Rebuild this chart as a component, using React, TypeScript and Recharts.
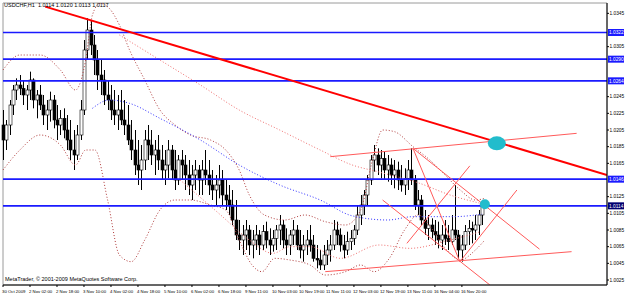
import React from "react";
import {
  Bar,
  ComposedChart,
  Line,
  ReferenceArea,
  ReferenceDot,
  ReferenceLine,
  XAxis,
  YAxis,
} from "recharts";

// USDCHF H1, one entry per 2 hours (bar index step 2)
const highs = [
  1.0229, 1.0217, 1.0241, 1.0259, 1.0267, 1.0271, 1.0265, 1.0259, 1.0275, 1.0267,
  1.0253, 1.0259, 1.0247, 1.0241, 1.0251, 1.0247, 1.0235, 1.0229, 1.0231, 1.0223,
  1.0217, 1.0205, 1.0211, 1.0241, 1.0313, 1.0339, 1.0337, 1.0319, 1.0301, 1.0289,
  1.0277, 1.0265, 1.0259, 1.0253, 1.0247, 1.0253, 1.0241, 1.0235, 1.0217, 1.0205,
  1.0193, 1.0187, 1.0205, 1.0211, 1.0205, 1.0193, 1.0199, 1.0187, 1.0181, 1.0193,
  1.0187, 1.0181, 1.0175, 1.0181, 1.0175, 1.0169, 1.0163, 1.0169, 1.0163, 1.0169,
  1.0181, 1.0169, 1.0157, 1.0151, 1.0163, 1.0157, 1.0145, 1.0139, 1.0133, 1.0121,
  1.0097, 1.0091, 1.0097, 1.0091, 1.0085, 1.0091, 1.0085, 1.0091, 1.0095, 1.0087,
  1.0085, 1.0091, 1.0103, 1.0097, 1.0087, 1.0085, 1.0097, 1.0091, 1.0085, 1.0079,
  1.0085, 1.0091, 1.0079, 1.0067, 1.0061, 1.0067, 1.0073, 1.0079, 1.0097, 1.0095,
  1.0087, 1.0079, 1.0083, 1.0085, 1.0091, 1.0115, 1.0127, 1.0133, 1.0151, 1.0175,
  1.0187, 1.0183, 1.0181, 1.0179, 1.0175, 1.0171, 1.0169, 1.0167, 1.0163, 1.0159,
  1.0169, 1.0183, 1.0151, 1.0133, 1.0127, 1.0109, 1.0103, 1.0099, 1.0097, 1.0095,
  1.0091, 1.0097, 1.0091, 1.0103, 1.0139, 1.0085, 1.0079, 1.0091, 1.0097, 1.0095,
  1.0103, 1.0109, 1.0117,
];

const lows = [
  1.0169, 1.0181, 1.0199, 1.0223, 1.0241, 1.0247, 1.0235, 1.0229, 1.0241, 1.0231,
  1.0219, 1.0229, 1.0211, 1.0205, 1.0215, 1.0207, 1.0193, 1.0199, 1.0195, 1.0181,
  1.0169, 1.0157, 1.0169, 1.0193, 1.0223, 1.0289, 1.0295, 1.0271, 1.0253, 1.0247,
  1.0235, 1.0229, 1.0217, 1.0211, 1.0205, 1.0211, 1.0199, 1.0187, 1.0169, 1.0151,
  1.0139, 1.0133, 1.0157, 1.0169, 1.0163, 1.0151, 1.0157, 1.0145, 1.0139, 1.0147,
  1.0145, 1.0133, 1.0139, 1.0145, 1.0133, 1.0127, 1.0121, 1.0133, 1.0127, 1.0127,
  1.0139, 1.0127, 1.0121, 1.0115, 1.0123, 1.0115, 1.0109, 1.0103, 1.0091, 1.0073,
  1.0061, 1.0055, 1.0061, 1.0055, 1.0051, 1.0061, 1.0055, 1.0061, 1.0063, 1.0055,
  1.0059, 1.0061, 1.0067, 1.0063, 1.0055, 1.0055, 1.0067, 1.0061, 1.0051, 1.0047,
  1.0055, 1.0059, 1.0047, 1.0039, 1.0037, 1.0037, 1.0043, 1.0047, 1.0061, 1.0067,
  1.0059, 1.0051, 1.0055, 1.0061, 1.0067, 1.0079, 1.0091, 1.0103, 1.0115, 1.0139,
  1.0155, 1.0151, 1.0147, 1.0145, 1.0143, 1.0139, 1.0135, 1.0133, 1.0131, 1.0127,
  1.0133, 1.0139, 1.0109, 1.0103, 1.0091, 1.0079, 1.0073, 1.0075, 1.0067, 1.0063,
  1.0061, 1.0067, 1.0061, 1.0067, 1.0073, 1.0051, 1.0047, 1.0061, 1.0067, 1.0069,
  1.0073, 1.0079, 1.0091,
];

const closes = [
  1.0193, 1.0211, 1.0235, 1.0253, 1.0259, 1.0255, 1.0247, 1.0253, 1.0265, 1.0241,
  1.0247, 1.0235, 1.0223, 1.0229, 1.0241, 1.0217, 1.0211, 1.0219, 1.0205, 1.0193,
  1.0181, 1.0175, 1.0199, 1.0229, 1.0301, 1.0325, 1.0307, 1.0289, 1.0271, 1.0265,
  1.0247, 1.0241, 1.0229, 1.0223, 1.0229, 1.0217, 1.0211, 1.0193, 1.0181, 1.0163,
  1.0157, 1.0169, 1.0193, 1.0187, 1.0175, 1.0181, 1.0169, 1.0157, 1.0163, 1.0181,
  1.0157, 1.0145, 1.0169, 1.0163, 1.0151, 1.0139, 1.0151, 1.0157, 1.0145, 1.0157,
  1.0151, 1.0139, 1.0133, 1.0139, 1.0145, 1.0127, 1.0121, 1.0115, 1.0097, 1.0079,
  1.0073, 1.0079, 1.0085, 1.0067, 1.0073, 1.0079, 1.0067, 1.0083, 1.0073, 1.0067,
  1.0075, 1.0085, 1.0091, 1.0073, 1.0067, 1.0079, 1.0085, 1.0067, 1.0061, 1.0067,
  1.0073, 1.0067, 1.0051, 1.0049, 1.0043, 1.0055, 1.0061, 1.0067, 1.0085, 1.0079,
  1.0067, 1.0061, 1.0071, 1.0075, 1.0085, 1.0103, 1.0115, 1.0127, 1.0145, 1.0169,
  1.0175, 1.0163, 1.0171, 1.0157, 1.0163, 1.0151, 1.0157, 1.0145, 1.0139, 1.0147,
  1.0157, 1.0145, 1.0115, 1.0121, 1.0097, 1.0087, 1.0091, 1.0083, 1.0079, 1.0073,
  1.0079, 1.0075, 1.0071, 1.0085, 1.0079, 1.0061, 1.0067, 1.0083, 1.0087, 1.0085,
  1.0091, 1.0103, 1.0117,
];
const firstOpen = 1.0211;

const timeLabels = [
  "30 Oct 2009", "2 Nov 02:00", "2 Nov 18:00", "3 Nov 10:00", "4 Nov 02:00",
  "4 Nov 18:00", "5 Nov 10:00", "6 Nov 02:00", "6 Nov 18:00", "9 Nov 11:00",
  "10 Nov 03:00", "10 Nov 19:00", "11 Nov 11:00", "12 Nov 03:00", "12 Nov 19:00",
  "13 Nov 11:00", "16 Nov 04:00", "16 Nov 20:00",
];

const priceTicks = [
  1.0345, 1.0325, 1.0305, 1.0285, 1.0265, 1.0245, 1.0225, 1.0205, 1.0185,
  1.0165, 1.0145, 1.0125, 1.0105, 1.0085, 1.0065, 1.0045, 1.0025,
];

const levels = [1.0322, 1.029, 1.0264, 1.0146, 1.0114];

// [bar index, price]
const bbUpper = [
  [0, 1.0277], [10, 1.0295], [22, 1.0295], [34, 1.0277], [43, 1.0253], [49, 1.0289],
  [53, 1.0343], [57.5, 1.0357], [63, 1.0351], [69, 1.0331], [75, 1.0301], [84, 1.0265],
  [93, 1.0229], [102, 1.0211], [111, 1.0199], [123, 1.0193], [132, 1.0181], [140, 1.0157],
  [146, 1.0127], [155, 1.0103], [167, 1.0097], [179, 1.0103], [191, 1.0095], [203, 1.0091],
  [212, 1.0109], [219, 1.0169], [225, 1.0205], [232, 1.0203], [243, 1.0185], [253, 1.0169],
  [262, 1.0151], [271, 1.0133], [280, 1.0121], [285.6, 1.0123],
];
const bbLower = [
  [0, 1.0157], [10, 1.0181], [22, 1.0199], [34, 1.0187], [43, 1.0163], [49, 1.0181],
  [54.5, 1.0181], [62, 1.0121], [69, 1.0055], [76, 1.0047], [84, 1.0073], [93, 1.0109],
  [102, 1.0121], [111, 1.0121], [123, 1.0115], [132, 1.0109], [140, 1.0073], [147.6, 1.0043],
  [153.5, 1.0035], [161, 1.0051], [170, 1.0049], [182, 1.0043], [191, 1.0031], [203, 1.0035],
  [212, 1.0043], [220, 1.0035], [229, 1.0051], [238, 1.0085], [246, 1.0103], [254, 1.0087],
  [263, 1.0061], [271, 1.0049], [280, 1.0061], [285.6, 1.0073],
];
const envUpper = [
  [69, 1.0319], [93, 1.0289], [117, 1.0259], [140, 1.0229], [164, 1.0205], [188, 1.0181],
  [207, 1.0163], [222, 1.0155], [247, 1.0141], [265, 1.0127], [283, 1.0117],
];
const envLower = [
  [105, 1.0145], [129, 1.0103], [146, 1.0073], [160, 1.0057], [170, 1.0065], [182, 1.0065],
  [200, 1.0051], [223, 1.0067], [241, 1.0063], [265, 1.0073], [283, 1.0083],
];
const maLine = [
  [53, 1.0231], [63, 1.0241], [75, 1.0237], [93, 1.0219], [117, 1.0193], [140, 1.0163],
  [164, 1.0139], [188, 1.0121], [207, 1.0102], [228, 1.0097], [243, 1.0101], [267, 1.0101],
  [284, 1.0104],
];

const trendLine = [[25, 1.0353], [358, 1.0151]];
const channelLines = [
  [[194, 1.0173], [340, 1.0201]],
  [[191, 1.0035], [337, 1.0059]],
];
const fanLines = [
  [[243.6, 1.0182], [318, 1.0062]],
  [[225, 1.0121], [288.6, 1.0019]],
  [[239.4, 1.0069], [276.7, 1.0162]],
  [[270.8, 1.0047], [304.6, 1.0133]],
  [[243, 1.0183], [270.8, 1.0047]],
];
const marks = [
  { x: 292.7, y: 1.0189, rx: 9, ry: 7 },
  { x: 285.6, y: 1.0116, rx: 5, ry: 5 },
];

const candles = closes.map((c, k) => ({
  x: k * 2,
  range: [lows[k], highs[k]],
  o: k ? closes[k - 1] : firstOpen,
  c,
  h: highs[k],
  l: lows[k],
}));

// axis labels hidden behind the level tags are not drawn
const shownTicks = priceTicks.filter((t) => levels.every((v) => Math.abs(v - t) > 0.0008));

const toPts = (arr: number[][]) => arr.map(([x, v]) => ({ x, v }));

function Candle(props: any) {
  const { x, y, width, height, payload } = props;
  const { o, c, h, l } = payload;
  const top0 = Math.min(y, y + height);
  const hgt = Math.abs(height);
  const span = h - l || 1;
  const px = (p: number) => top0 + ((h - p) / span) * hgt;
  const bTop = px(Math.max(o, c));
  const bBot = px(Math.min(o, c));
  const cx = Math.round(x + width / 2) + 0.5;
  return (
    <g>
      <line x1={cx} x2={cx} y1={top0} y2={top0 + hgt} stroke="#000" strokeWidth={1} />
      <rect
        x={cx - 1.5}
        y={bTop}
        width={3}
        height={Math.max(bBot - bTop, 1)}
        fill={c >= o ? "#fff" : "#000"}
        stroke="#000"
        strokeWidth={0.6}
      />
    </g>
  );
}

function TimeTick({ x, y, payload }: any) {
  const label = timeLabels[Math.round(payload.value / 16)];
  return (
    <text x={x - 1} y={y + 4} fontSize={4.3} fill="#000" textAnchor="start">
      {label}
    </text>
  );
}

function PriceTick({ x, y, payload }: any) {
  return (
    <text x={x - 0.5} y={y + 1.8} fontSize={4.8} fill="#000" textAnchor="start">
      {payload.value.toFixed(4)}
    </text>
  );
}

function LevelTag({ viewBox, value, dark }: any) {
  const x = viewBox.x + viewBox.width + 1;
  const y = viewBox.y;
  return (
    <g>
      <rect x={x} y={y - 3.5} width={16} height={7} fill={dark ? "#000070" : "#1a1aff"} />
      <text x={x + 1} y={y + 1.8} fontSize={4.8} fill="#fff">
        {value.toFixed(4)}
      </text>
    </g>
  );
}

export default function App() {
  const seg = (s: number[][]) => [
    { x: s[0][0], y: s[0][1] },
    { x: s[1][0], y: s[1][1] },
  ];
  return (
    <div
      style={{
        position: "absolute",
        left: 0,
        top: 0,
        width: 625,
        height: 293,
        background: "#fff",
        fontFamily: "'Liberation Sans', Arial, sans-serif",
      }}
    >
      <ComposedChart
        width={625}
        height={293}
        data={candles}
        margin={{ top: 3, right: 0, left: 3, bottom: 0 }}
        style={{ fontFamily: "'Liberation Sans', Arial, sans-serif" }}
      >
        <XAxis
          dataKey="x"
          type="number"
          domain={[0, 358]}
          ticks={timeLabels.map((_, i) => i * 16)}
          tick={<TimeTick />}
          height={8}
          tickSize={2}
          stroke="#000"
          interval={0}
        />
        <YAxis
          orientation="right"
          type="number"
          domain={[1.0019, 1.03574]}
          ticks={shownTicks}
          tick={<PriceTick />}
          width={18}
          tickSize={2}
          tickMargin={1}
          stroke="#000"
          interval={0}
          allowDataOverflow
        />
        <ReferenceArea
          x1={0}
          x2={358}
          y1={1.0019}
          y2={1.03574}
          fill="none"
          stroke="#9a9a9a"
          strokeWidth={1}
        />
        <Line data={toPts(envUpper)} dataKey="v" type="monotone" stroke="#f07070" strokeWidth={1} strokeDasharray="1 2" dot={false} isAnimationActive={false} />
        <Line data={toPts(envLower)} dataKey="v" type="monotone" stroke="#f07070" strokeWidth={1} strokeDasharray="1 2" dot={false} isAnimationActive={false} />
        <Line data={toPts(bbUpper)} dataKey="v" type="monotone" stroke="#b03a3a" strokeWidth={1} strokeDasharray="1 2" dot={false} isAnimationActive={false} />
        <Line data={toPts(bbLower)} dataKey="v" type="monotone" stroke="#b03a3a" strokeWidth={1} strokeDasharray="1 2" dot={false} isAnimationActive={false} />
        <Line data={toPts(maLine)} dataKey="v" type="monotone" stroke="#3030ff" strokeWidth={1} strokeDasharray="1 2" dot={false} isAnimationActive={false} />
        {levels.map((v, i) => (
          <ReferenceLine
            key={v}
            y={v}
            stroke="#1a1aff"
            strokeWidth={1.6}
            label={<LevelTag value={v} dark={i === levels.length - 1} />}
          />
        ))}
        <Bar dataKey="range" barSize={3} shape={<Candle />} isAnimationActive={false} />
        {channelLines.map((s, i) => (
          <ReferenceLine key={"c" + i} segment={seg(s)} stroke="#ff5a5a" strokeWidth={1} ifOverflow="hidden" />
        ))}
        {fanLines.map((s, i) => (
          <ReferenceLine key={"f" + i} segment={seg(s)} stroke="#ff5a5a" strokeWidth={1} ifOverflow="hidden" />
        ))}
        <ReferenceLine segment={seg(trendLine)} stroke="#ff0000" strokeWidth={2} ifOverflow="hidden" />
        {marks.map((m, i) => (
          <ReferenceDot
            key={"m" + i}
            x={m.x}
            y={m.y}
            r={m.rx}
            shape={(p: any) => (
              <ellipse cx={p.cx} cy={p.cy} rx={m.rx} ry={m.ry} fill="#22bccc" />
            )}
          />
        ))}
      </ComposedChart>
      <div style={{ position: "absolute", left: 4, top: 2, fontSize: 5.5, lineHeight: "7px", color: "#000", whiteSpace: "nowrap" }}>
        USDCHF,H1&nbsp; 1.0114 1.0120 1.0113 1.0117
      </div>
      <div style={{ position: "absolute", left: 5, top: 276, fontSize: 5.5, lineHeight: "7px", color: "#000", whiteSpace: "nowrap" }}>
        MetaTrader, © 2001-2009 MetaQuotes Software Corp.
      </div>
    </div>
  );
}
